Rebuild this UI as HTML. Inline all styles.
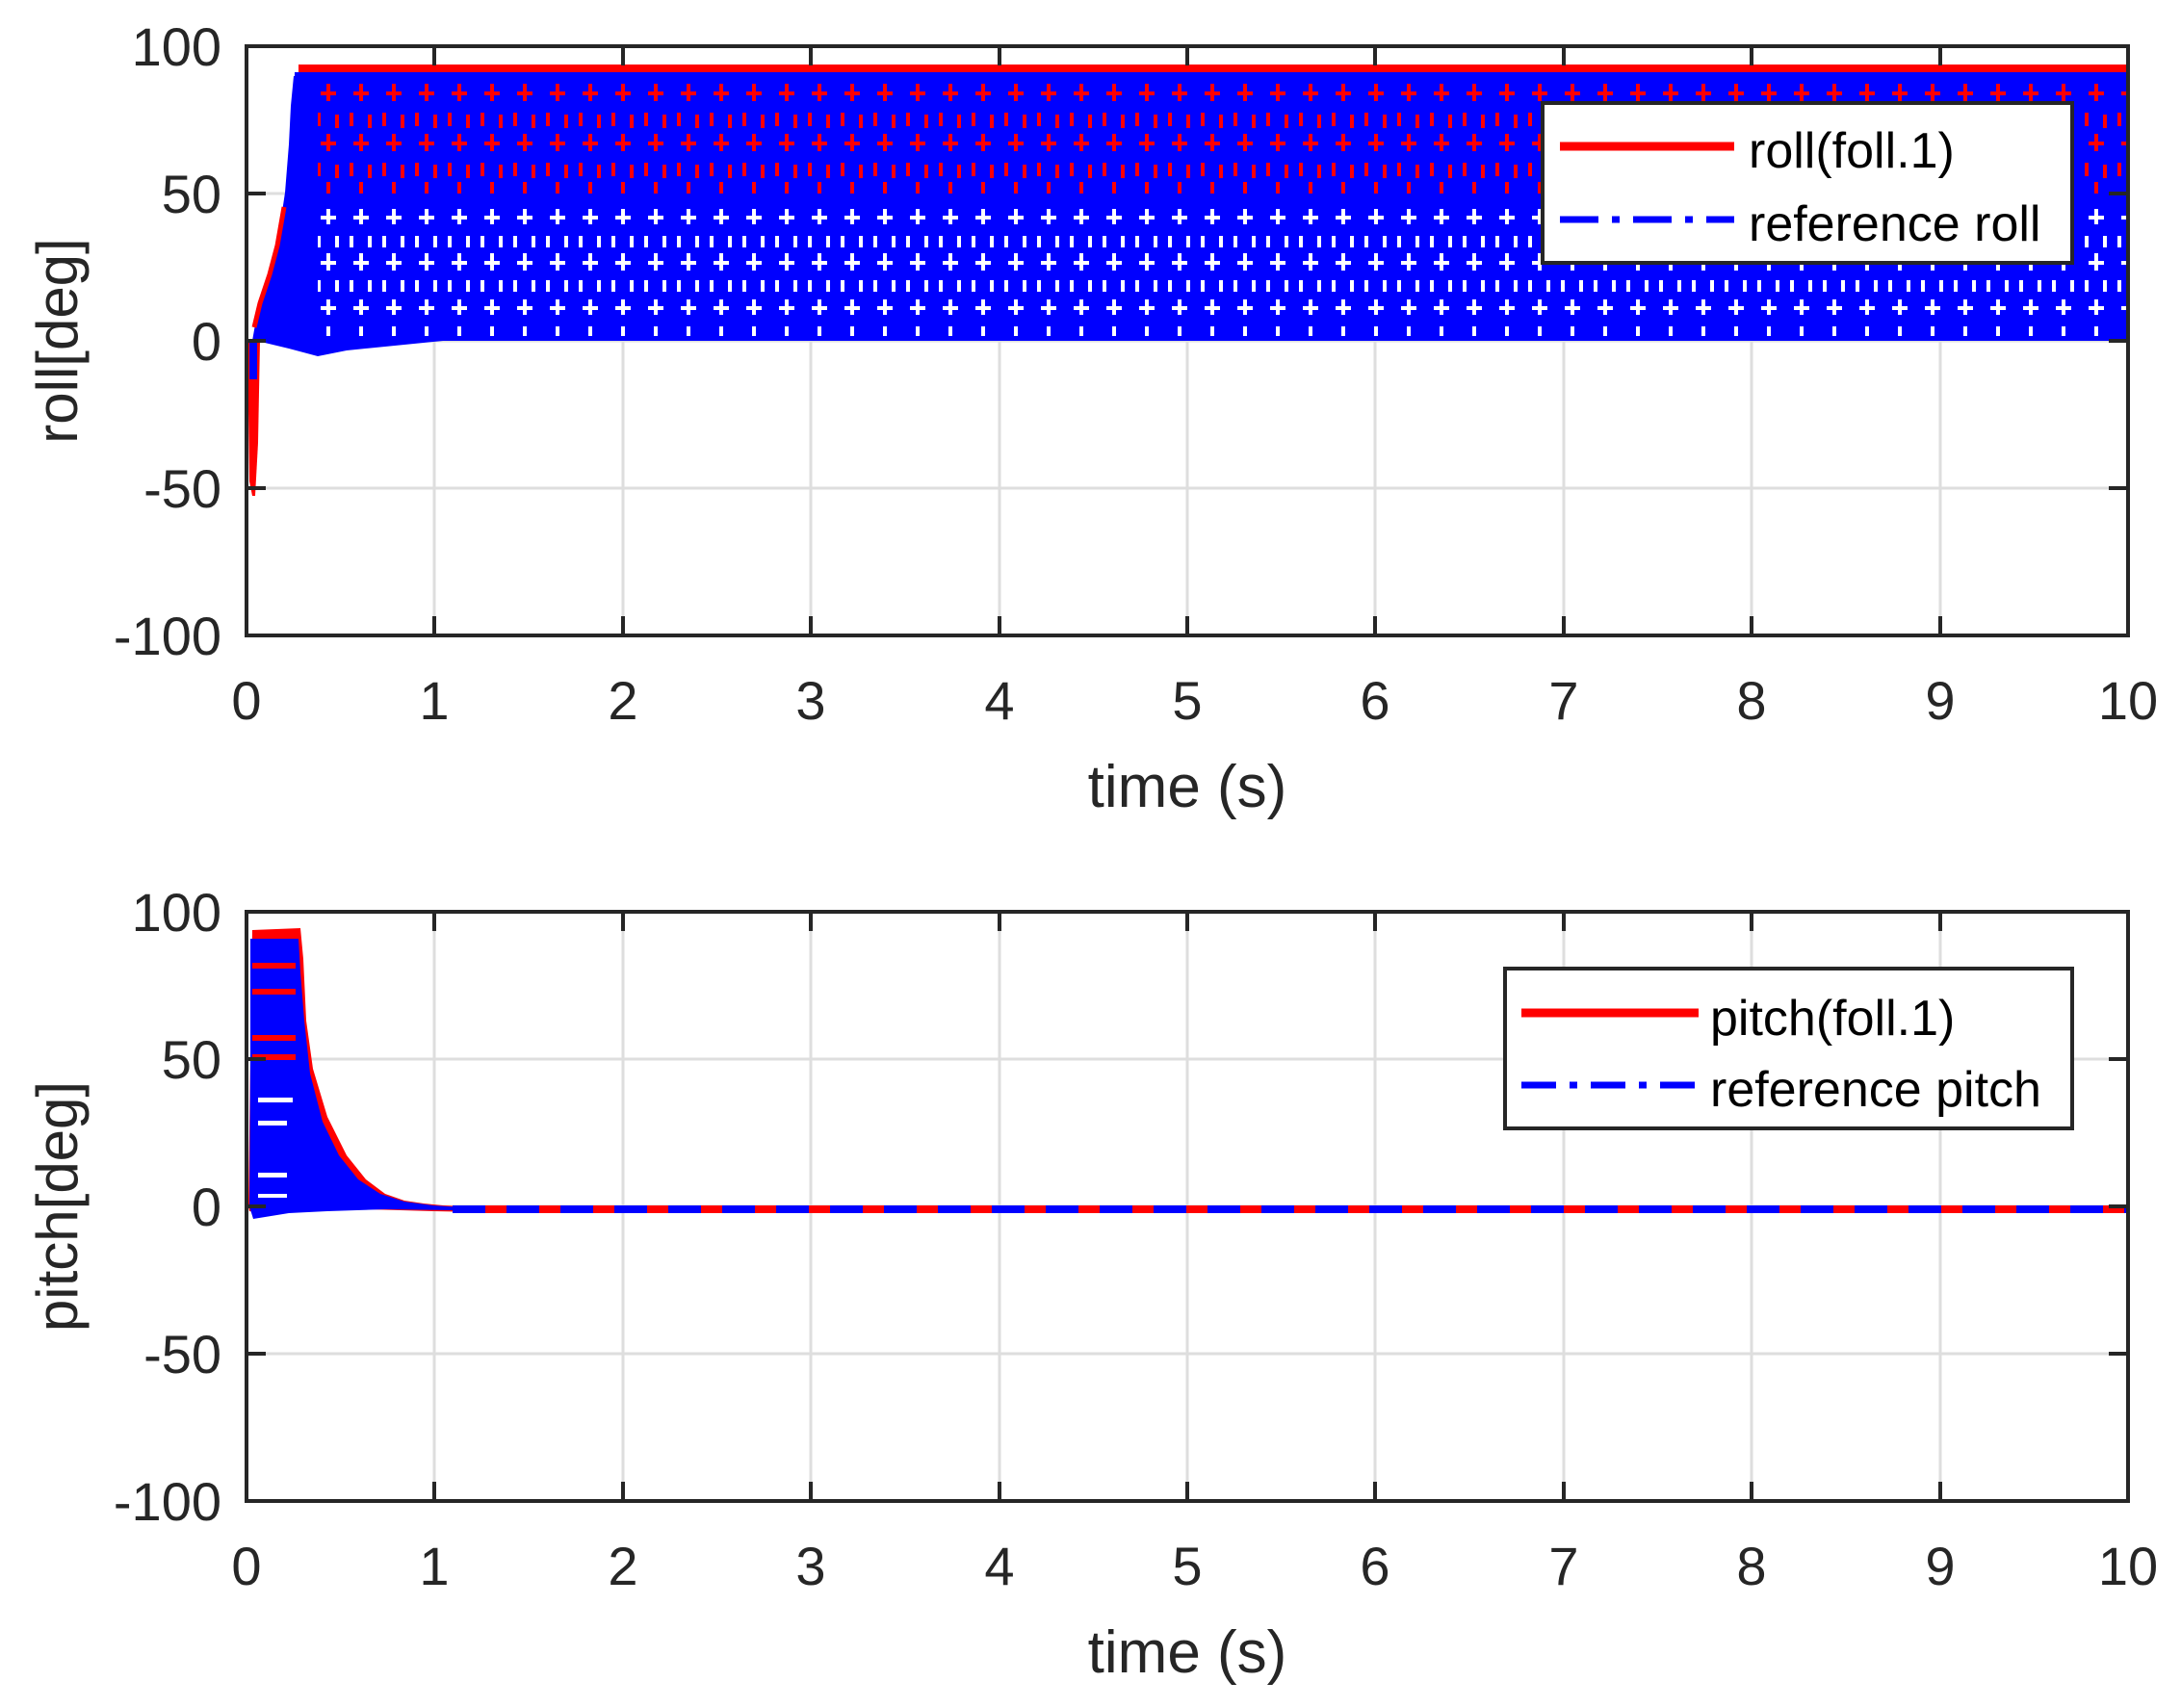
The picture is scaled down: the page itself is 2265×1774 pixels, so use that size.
<!DOCTYPE html>
<html><head><meta charset="utf-8"><style>html,body{margin:0;padding:0;background:#fff}svg{display:block}</style></head>
<body>
<svg width="2265" height="1774" viewBox="0 0 2265 1774" xmlns="http://www.w3.org/2000/svg" font-family="Liberation Sans, sans-serif">
<defs>
<pattern id="pt" x="256" y="79" width="34" height="276" patternUnits="userSpaceOnUse">
<rect width="34" height="276" fill="#0000ff"/>
<g fill="#ff0000">
<rect x="15" y="8" width="4" height="18"/><rect x="9" y="16" width="16" height="4"/>
<rect x="5" y="38" width="4" height="14"/><rect x="24" y="40" width="4" height="14"/>
<rect x="15" y="60" width="4" height="18"/><rect x="9" y="68" width="16" height="4"/>
<rect x="5" y="90" width="4" height="14"/><rect x="24" y="92" width="4" height="14"/>
<rect x="15" y="110" width="4" height="12"/>
</g>
<g fill="#ffffff">
<rect x="15" y="138" width="4" height="16"/><rect x="9" y="145" width="16" height="4"/>
<rect x="5" y="166" width="4" height="12"/><rect x="24" y="166" width="4" height="12"/>
<rect x="15" y="184" width="4" height="18"/><rect x="9" y="192" width="16" height="4"/>
<rect x="5" y="212" width="4" height="12"/><rect x="24" y="212" width="4" height="12"/>
<rect x="15" y="232" width="4" height="16"/><rect x="9" y="239" width="16" height="4"/>
<rect x="15" y="260" width="4" height="10"/>
</g>
</pattern>
</defs>

<g stroke="#dedede" stroke-width="3">
<line x1="451" y1="48" x2="451" y2="660"/><line x1="647" y1="48" x2="647" y2="660"/><line x1="842" y1="48" x2="842" y2="660"/><line x1="1038" y1="48" x2="1038" y2="660"/><line x1="1233" y1="48" x2="1233" y2="660"/><line x1="1428" y1="48" x2="1428" y2="660"/><line x1="1624" y1="48" x2="1624" y2="660"/><line x1="1819" y1="48" x2="1819" y2="660"/><line x1="2015" y1="48" x2="2015" y2="660"/>
<line x1="256" y1="201" x2="2210" y2="201"/><line x1="256" y1="354" x2="2210" y2="354"/><line x1="256" y1="507" x2="2210" y2="507"/>
</g>
<polygon points="262,354 268,320 275,300 283,270 290,240 296,200 300,150 302,110 305,79 2210,79 2210,354 460,354 360,364 330,370 300,362 275,356" fill="#0000ff"/>
<polyline points="264,340 270,315 280,285 288,255 295,215" fill="none" stroke="#ff0000" stroke-width="5"/>
<rect x="330" y="79" width="1880" height="275" fill="url(#pt)"/>
<rect x="310" y="67" width="1900" height="8" fill="#ff0000"/>
<rect x="306" y="75" width="1904" height="6" fill="#0000ff"/>
<polygon points="257,354 259,500 262,515 265,515 268,460 270,354" fill="#ff0000"/>
<rect x="259" y="354" width="8" height="40" fill="#0000ff"/>
<rect x="256" y="48" width="1954" height="612" fill="none" stroke="#262626" stroke-width="4"/>
<g stroke="#262626" stroke-width="4">
<line x1="451" y1="660" x2="451" y2="640"/><line x1="647" y1="660" x2="647" y2="640"/><line x1="842" y1="660" x2="842" y2="640"/><line x1="1038" y1="660" x2="1038" y2="640"/><line x1="1233" y1="660" x2="1233" y2="640"/><line x1="1428" y1="660" x2="1428" y2="640"/><line x1="1624" y1="660" x2="1624" y2="640"/><line x1="1819" y1="660" x2="1819" y2="640"/><line x1="2015" y1="660" x2="2015" y2="640"/>
<line x1="451" y1="48" x2="451" y2="68"/><line x1="647" y1="48" x2="647" y2="68"/><line x1="842" y1="48" x2="842" y2="68"/><line x1="1038" y1="48" x2="1038" y2="68"/><line x1="1233" y1="48" x2="1233" y2="68"/><line x1="1428" y1="48" x2="1428" y2="68"/><line x1="1624" y1="48" x2="1624" y2="68"/><line x1="1819" y1="48" x2="1819" y2="68"/><line x1="2015" y1="48" x2="2015" y2="68"/>
<line x1="256" y1="201" x2="276" y2="201"/><line x1="256" y1="354" x2="276" y2="354"/><line x1="256" y1="507" x2="276" y2="507"/>
<line x1="2210" y1="201" x2="2190" y2="201"/><line x1="2210" y1="354" x2="2190" y2="354"/><line x1="2210" y1="507" x2="2190" y2="507"/>
</g>
<g font-size="56" fill="#262626" text-anchor="end">
<text x="230" y="68">100</text><text x="230" y="221">50</text><text x="230" y="374">0</text><text x="230" y="527">-50</text><text x="230" y="680">-100</text>
</g>
<g font-size="56" fill="#262626" text-anchor="middle">
<text x="256" y="747">0</text><text x="451" y="747">1</text><text x="647" y="747">2</text><text x="842" y="747">3</text><text x="1038" y="747">4</text><text x="1233" y="747">5</text><text x="1428" y="747">6</text><text x="1624" y="747">7</text><text x="1819" y="747">8</text><text x="2015" y="747">9</text><text x="2210" y="747">10</text>
</g>
<text x="1233" y="838" font-size="62" fill="#262626" text-anchor="middle">time (s)</text>
<text transform="translate(80,354) rotate(-90)" font-size="60" fill="#262626" text-anchor="middle">roll[deg]</text>
<rect x="1602" y="107" width="550" height="166" fill="#fff" stroke="#262626" stroke-width="4"/>
<line x1="1620" y1="152" x2="1801" y2="152" stroke="#ff0000" stroke-width="9"/>
<line x1="1620" y1="228" x2="1801" y2="228" stroke="#0000ff" stroke-width="7" stroke-dasharray="40,14,8,14"/>
<text x="1816" y="174" font-size="52" fill="#000">roll(foll.1)</text>
<text x="1816" y="250" font-size="52" fill="#000">reference roll</text>

<g stroke="#dedede" stroke-width="3">
<line x1="451" y1="947" x2="451" y2="1559"/><line x1="647" y1="947" x2="647" y2="1559"/><line x1="842" y1="947" x2="842" y2="1559"/><line x1="1038" y1="947" x2="1038" y2="1559"/><line x1="1233" y1="947" x2="1233" y2="1559"/><line x1="1428" y1="947" x2="1428" y2="1559"/><line x1="1624" y1="947" x2="1624" y2="1559"/><line x1="1819" y1="947" x2="1819" y2="1559"/><line x1="2015" y1="947" x2="2015" y2="1559"/>
<line x1="256" y1="1100" x2="2210" y2="1100"/><line x1="256" y1="1253" x2="2210" y2="1253"/><line x1="256" y1="1406" x2="2210" y2="1406"/>
</g>
<polygon points="258,1253 260,1100 262,966 312,964 315,996 318,1060 325,1110 340,1160 360,1200 380,1225 400,1240 420,1247 440,1250 460,1252 500,1254 500,1259 450,1258 380,1256 320,1258 280,1261 259,1258" fill="#ff0000"/>
<polygon points="259,1253 260,1100 260,975 310,975 312,1010 316,1060 322,1115 335,1165 352,1200 372,1225 395,1240 420,1248 450,1252 480,1254 470,1257 400,1256 340,1258 300,1260 263,1266" fill="#0000ff"/>
<g fill="#fff">
<rect x="268" y="1140" width="36" height="5"/><rect x="268" y="1164" width="30" height="5"/><rect x="268" y="1218" width="30" height="5"/><rect x="268" y="1240" width="30" height="4"/>
</g>
<g fill="#ff0000"><rect x="262" y="1000" width="45" height="6"/><rect x="262" y="1027" width="45" height="6"/><rect x="262" y="1075" width="45" height="6"/><rect x="262" y="1095" width="45" height="6"/></g>
<line x1="470" y1="1256" x2="2210" y2="1256" stroke="#ff0000" stroke-width="8"/>
<line x1="470" y1="1256" x2="2210" y2="1256" stroke="#0000ff" stroke-width="8" stroke-dasharray="34,22"/>
<rect x="256" y="947" width="1954" height="612" fill="none" stroke="#262626" stroke-width="4"/>
<g stroke="#262626" stroke-width="4">
<line x1="451" y1="1559" x2="451" y2="1539"/><line x1="647" y1="1559" x2="647" y2="1539"/><line x1="842" y1="1559" x2="842" y2="1539"/><line x1="1038" y1="1559" x2="1038" y2="1539"/><line x1="1233" y1="1559" x2="1233" y2="1539"/><line x1="1428" y1="1559" x2="1428" y2="1539"/><line x1="1624" y1="1559" x2="1624" y2="1539"/><line x1="1819" y1="1559" x2="1819" y2="1539"/><line x1="2015" y1="1559" x2="2015" y2="1539"/>
<line x1="451" y1="947" x2="451" y2="967"/><line x1="647" y1="947" x2="647" y2="967"/><line x1="842" y1="947" x2="842" y2="967"/><line x1="1038" y1="947" x2="1038" y2="967"/><line x1="1233" y1="947" x2="1233" y2="967"/><line x1="1428" y1="947" x2="1428" y2="967"/><line x1="1624" y1="947" x2="1624" y2="967"/><line x1="1819" y1="947" x2="1819" y2="967"/><line x1="2015" y1="947" x2="2015" y2="967"/>
<line x1="256" y1="1100" x2="276" y2="1100"/><line x1="256" y1="1253" x2="276" y2="1253"/><line x1="256" y1="1406" x2="276" y2="1406"/>
<line x1="2210" y1="1100" x2="2190" y2="1100"/><line x1="2210" y1="1253" x2="2190" y2="1253"/><line x1="2210" y1="1406" x2="2190" y2="1406"/>
</g>
<g font-size="56" fill="#262626" text-anchor="end">
<text x="230" y="967">100</text><text x="230" y="1120">50</text><text x="230" y="1273">0</text><text x="230" y="1426">-50</text><text x="230" y="1579">-100</text>
</g>
<g font-size="56" fill="#262626" text-anchor="middle">
<text x="256" y="1646">0</text><text x="451" y="1646">1</text><text x="647" y="1646">2</text><text x="842" y="1646">3</text><text x="1038" y="1646">4</text><text x="1233" y="1646">5</text><text x="1428" y="1646">6</text><text x="1624" y="1646">7</text><text x="1819" y="1646">8</text><text x="2015" y="1646">9</text><text x="2210" y="1646">10</text>
</g>
<text x="1233" y="1737" font-size="62" fill="#262626" text-anchor="middle">time (s)</text>
<text transform="translate(80,1253) rotate(-90)" font-size="60" fill="#262626" text-anchor="middle">pitch[deg]</text>
<rect x="1563" y="1006" width="589" height="166" fill="#fff" stroke="#262626" stroke-width="4"/>
<line x1="1580" y1="1052" x2="1764" y2="1052" stroke="#ff0000" stroke-width="9"/>
<line x1="1580" y1="1127" x2="1764" y2="1127" stroke="#0000ff" stroke-width="7" stroke-dasharray="36,14,8,14"/>
<text x="1776" y="1075" font-size="52" fill="#000">pitch(foll.1)</text>
<text x="1776" y="1149" font-size="52" fill="#000">reference pitch</text>
</svg>
</body></html>
